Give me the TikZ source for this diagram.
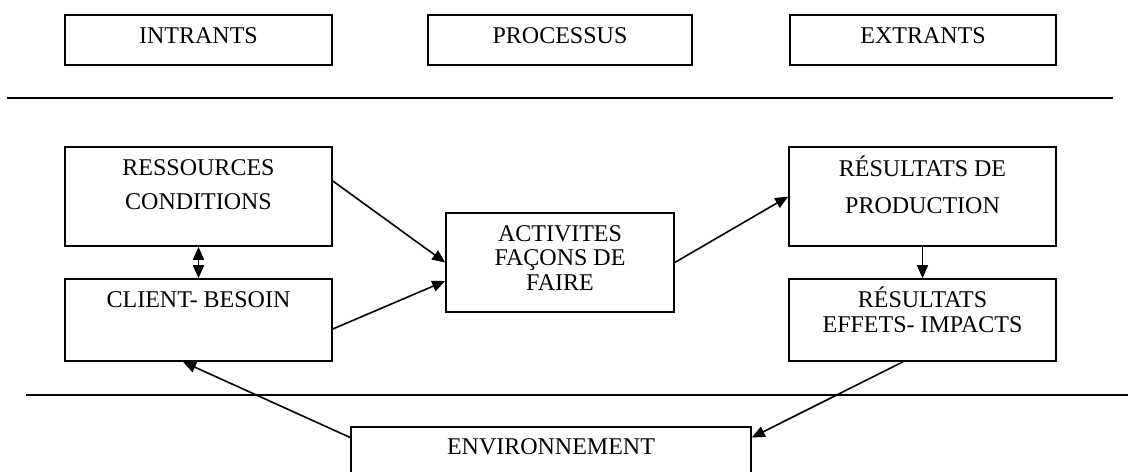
\documentclass[tikz,border=0pt]{standalone}
\usepackage{fontspec}
\setmainfont{Liberation Serif}
\usetikzlibrary{fit,arrows.meta}
\tikzset{box/.style={draw,line width=0.8pt,inner sep=0pt},
  lbl/.style={anchor=base,inner sep=0pt,font=\fontsize{12}{14}\selectfont},
  pointe/.tip={Triangle[length=6.5pt,width=5.5pt]},
  fleche/.style={line width=0.8pt,-pointe}}
\newcommand{\boite}[3]{\node[box,fit={#2 #3}] (#1) {};}

\begin{document}
\begin{tikzpicture}[x=0.5pt,y=-0.5pt]
  \clip (0,0) rectangle (1128,471);

  % en-tetes
  \boite{intrants}{(65,15)}{(332,65)}
  \boite{processus}{(428,15)}{(692,65)}
  \boite{extrants}{(790,15)}{(1056,65)}
  \node[lbl] (tintrants) at (198.5,43) {INTRANTS};
  \node[lbl] (tprocessus) at (560,43) {PROCESSUS};
  \node[lbl] (textrants) at (923,43) {EXTRANTS};
  \draw[line width=0.9pt] (7,98) -- (1113,98);

  % intrants
  \boite{res}{(65,147)}{(332,246)}
  \node[lbl] (tres1) at (198.5,175) {RESSOURCES};
  \node[lbl] (tres2) at (198.5,209) {CONDITIONS};
  \boite{cli}{(65,279)}{(332,361)}
  \node[lbl] (tcli) at (198.5,307) {CLIENT- BESOIN};

  % processus
  \boite{act}{(446,213)}{(674,312)}
  \node[lbl] (tact1) at (560,241) {ACTIVITES};
  \node[lbl] (tact2) at (560,265) {FAÇONS DE};
  \node[lbl] (tact3) at (560,290) {FAIRE};

  % extrants
  \boite{prod}{(789,147)}{(1056,246)}
  \node[lbl] (tprod1) at (922.5,176) {RÉSULTATS DE};
  \node[lbl] (tprod2) at (922.5,213) {PRODUCTION};
  \boite{eff}{(789,279)}{(1056,361)}
  \node[lbl] (teff1) at (922.5,307) {RÉSULTATS};
  \node[lbl] (teff2) at (922.5,332) {EFFETS- IMPACTS};

  \draw[line width=0.9pt] (26,395) -- (1128,395);

  % environnement
  \boite{env}{(351,427)}{(751,490)}
  \node[lbl] (tenv) at (551,454) {ENVIRONNEMENT};

  \draw[fleche,pointe-pointe] (res.south) -- (cli.north);
  \draw[fleche] ([yshift=7.75pt]res.east) -- (act.west);
  \draw[fleche] ([yshift=-4.5pt]cli.east) -- ([yshift=-9.25pt]act.west);
  \draw[fleche] (act.east) -- (prod.west);
  \draw[fleche] (prod.south) -- (eff.north);
  \draw[fleche] ([xshift=-9.75pt]eff.south) -- ([yshift=10.5pt]env.east);
  \draw[fleche] ([yshift=10.5pt]env.west) -- ([xshift=-7.75pt]cli.south);
\end{tikzpicture}
\end{document}
